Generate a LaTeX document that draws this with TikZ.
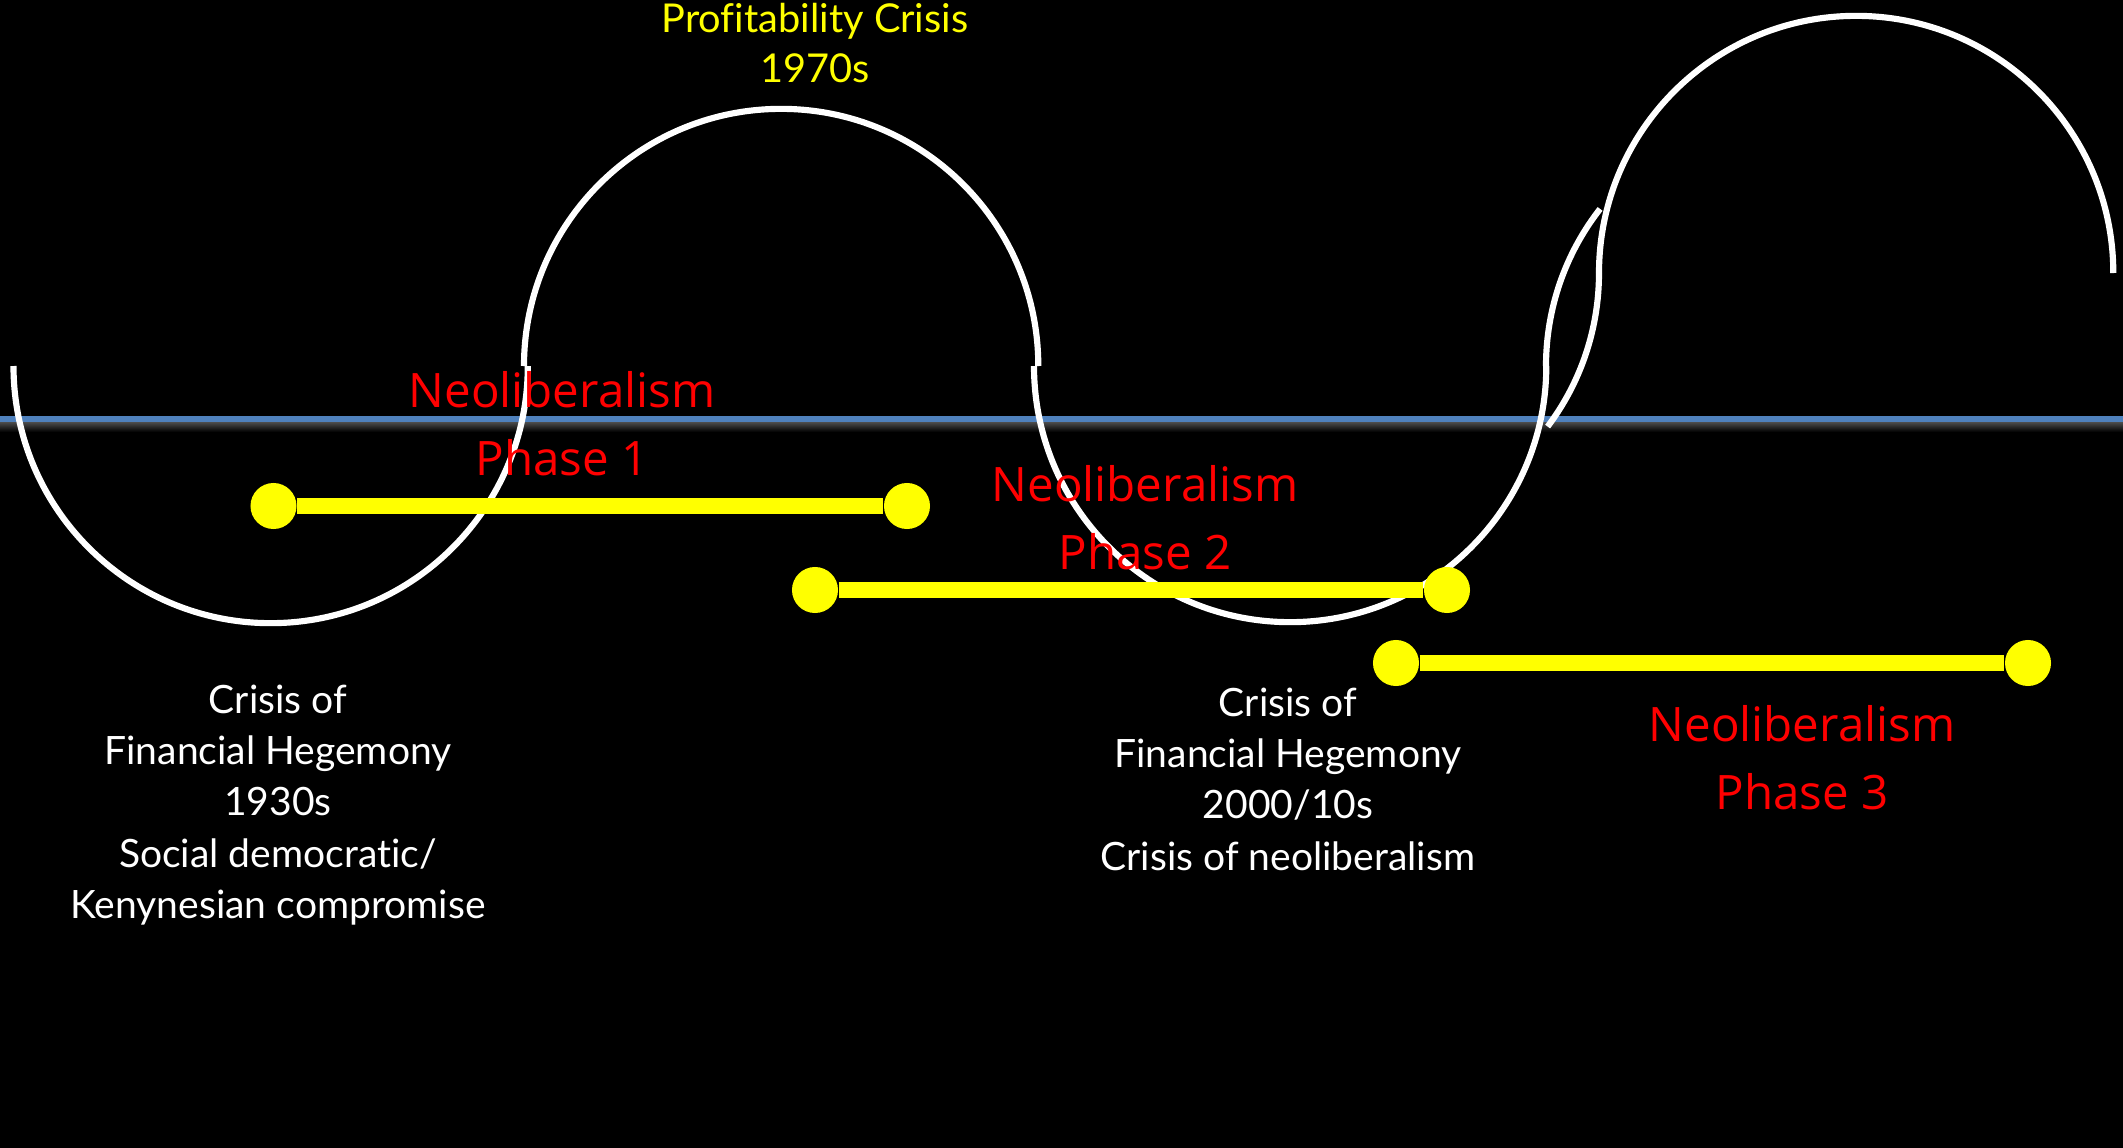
\documentclass[tikz,border=0pt]{standalone}
\usepackage{fontspec}
\newfontfamily\gillfont[Ligatures=NoCommon]{Lato}
\newfontfamily\redfont{Open Sans}
\definecolor{axisblue}{HTML}{4F81BD}
\definecolor{ylw}{HTML}{FFFF00}
\definecolor{rd}{HTML}{FF0000}
\begin{document}
\begin{tikzpicture}[x=0.01cm,y=-0.01cm,
  wave/.style={draw=white,line width=1.75pt},
  phaseline/.style={draw=ylw,line width=4.4pt},
  dotnode/.style={circle,fill=ylw,minimum size=0.46cm,inner sep=0pt},
  redlabel/.style={text=rd,align=center,font=\redfont\fontsize{13.5}{19.3}\selectfont},
  whitelabel/.style={text=white,align=center,font=\gillfont\fontsize{11.1}{14.6}\selectfont},
  yellowlabel/.style={text=ylw,align=center,font=\gillfont\fontsize{11.3}{14.2}\selectfont}]
\fill[black] (0,0) rectangle (2123,1148);
\useasboundingbox (0,0) rectangle (2123,1148);
% axis with soft shadow
\shade[top color=black!70,bottom color=black] (0,422) rectangle (2123,432);
\draw[axisblue,line width=1.8pt] (0,419) -- (2123,419);
% waves
\draw[wave] (13.5,366) arc[start angle=180,end angle=360,radius=2.57cm];
\draw[wave] (524,366) arc[start angle=180,end angle=0,radius=2.57cm];
\draw[wave] (1034,366) arc[start angle=180,end angle=360,radius=2.56cm];
\draw[wave] (1546,366) arc[start angle=180,end angle=142,radius=2.55cm];
\draw[wave] (1599,273) arc[start angle=0,end angle=-37,radius=2.55cm];
\draw[wave] (1599,273) arc[start angle=180,end angle=0,radius=2.57cm];
% phase bars
\node[dotnode] (p1a) at (273.5,506) {};
\node[dotnode] (p1b) at (907,506) {};
\node[dotnode] (p2a) at (815,590) {};
\node[dotnode] (p2b) at (1447,590) {};
\node[dotnode] (p3a) at (1396,663) {};
\node[dotnode] (p3b) at (2028,663) {};
\draw[phaseline] (p1a) -- (p1b);
\draw[phaseline] (p2a) -- (p2b);
\draw[phaseline] (p3a) -- (p3b);
% labels
\node[yellowlabel] (prof) at (815,43) {Profitability Crisis\\1970s};
\node[redlabel] (ph1) at (562,424) {Neoliberalism\\Phase 1};
\node[redlabel] (ph2) at (1145,518) {Neoliberalism\\Phase 2};
\node[redlabel] (ph3) at (1802,758) {Neoliberalism\\Phase 3};
\node[whitelabel] (c1) at (278,805) {Crisis of\\Financial Hegemony\\1930s\\Social democratic/\\Kenynesian compromise};
\node[whitelabel] (c2) at (1288,779) {Crisis of\\Financial Hegemony\\2000/10s\\Crisis of neoliberalism};
\end{tikzpicture}
\end{document}
